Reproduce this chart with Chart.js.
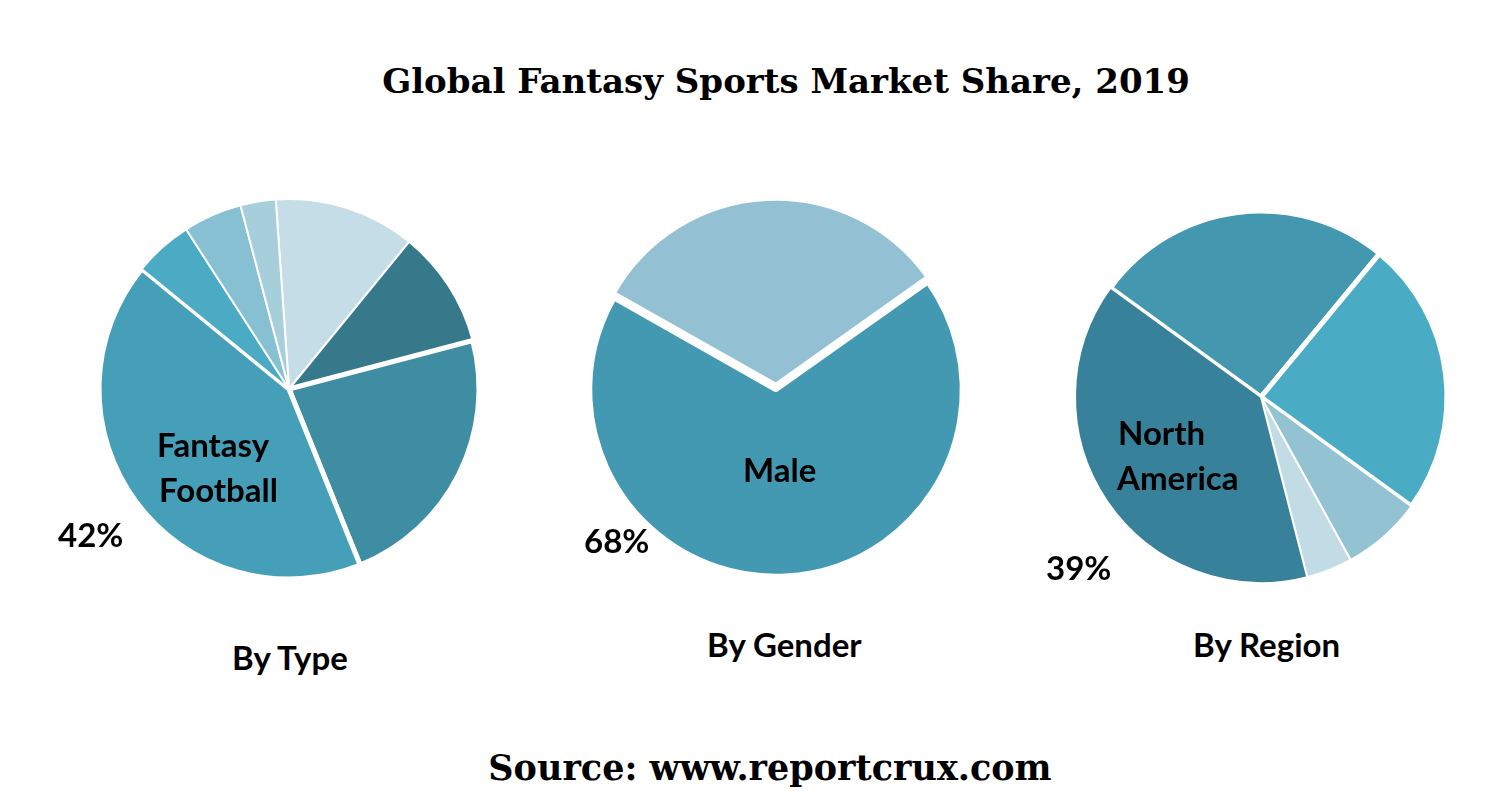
<!DOCTYPE html>
<html>
<head>
<meta charset="utf-8">
<script src="https://cdn.jsdelivr.net/npm/chart.js@4"></script>
<style>
  html, body { margin: 0; padding: 0; background: #fff; }
  body { width: 1502px; height: 792px; position: relative; overflow: hidden; }
  .pie { position: absolute; }
  .txt { position: absolute; font-family: Lato, "Open Sans", sans-serif; font-weight: 700; font-size: 33px; line-height: 33px; color: #000; white-space: nowrap; }
  .head { position: absolute; width: 1000px; text-align: center; font-family: "DejaVu Serif", serif; font-weight: 700; font-size: 34px; line-height: 34px; color: #000; white-space: nowrap; }
</style>
</head>
<body>

<div class="head" style="left:286px; top:64px;">Global Fantasy Sports Market Share, 2019</div>

<div class="pie" id="box1"><canvas id="typePie"></canvas></div>
<div class="pie" id="box2"><canvas id="genderPie"></canvas></div>
<div class="pie" id="box3"><canvas id="regionPie"></canvas></div>

<div class="txt" style="left:157px; top:428px;">Fantasy</div>
<div class="txt" style="left:159px; top:473px;">Football</div>
<div class="txt" style="left:58px; top:518px;">42%</div>
<div class="txt" style="left:232px; top:641px;">By Type</div>

<div class="txt" style="left:743px; top:453px;">Male</div>
<div class="txt" style="left:584px; top:524px;">68%</div>
<div class="txt" style="left:707px; top:628px;">By Gender</div>

<div class="txt" style="left:1118px; top:416px;">North</div>
<div class="txt" style="left:1117px; top:461px;">America</div>
<div class="txt" style="left:1046px; top:551px;">39%</div>
<div class="txt" style="left:1193px; top:628px;">By Region</div>

<div class="head" style="left:270px; top:751px; font-size:35px;">Source: www.reportcrux.com</div>

<script>
// shares (%), clockwise from the first slice
// only the big slices are labelled in the source, the rest are guesses
var typeLabels = ['Fantasy Baseball', 'Fantasy Basketball', 'Fantasy Soccer', 'Fantasy Football', 'Fantasy Hockey', 'Fantasy Cricket', 'Others'];
var typeValues = [12, 10, 23, 42, 5, 5, 3];
var typeColors = ['#c5dde7', '#35798b', '#3e8da3', '#459fb8', '#4babc5', '#86c0d2', '#a6cedb'];
var typeBorders = [2, 2, 5, 5, 2, 2, 2];

var genderLabels = ['Female', 'Male'];
var genderValues = [32, 68];
var genderColors = ['#93c1d3', '#4399b1'];

var regionLabels = ['Europe', 'Asia Pacific', 'Latin America', 'Middle East & Africa', 'North America'];
var regionValues = [26, 24, 7, 4, 39];
var regionColors = ['#4398b0', '#4aacc4', '#93c2d3', '#c2dce6', '#37819a'];
var regionBorders = [5, 5, 2, 2, 2];

function makePie(boxId, canvasId, cx, cy, radius, rotation, labels, values, colors, borders, offsets) {
	var size = Math.ceil(radius * 2 + 30);
	var box = document.getElementById(boxId);
	box.style.left = (cx - size / 2) + 'px';
	box.style.top = (cy - size / 2) + 'px';
	box.style.width = size + 'px';
	box.style.height = size + 'px';

	var config = {
		type: 'pie',
		data: {
			labels: labels,
			datasets: [{
				data: values,
				backgroundColor: colors,
				borderColor: '#ffffff',
				borderWidth: borders,
				offset: offsets || 0
			}]
		},
		options: {
			responsive: true,
			maintainAspectRatio: false,
			animation: false,
			radius: radius,
			rotation: rotation,
			layout: { padding: 0 },
			plugins: {
				legend: { display: false },
				tooltip: { enabled: false },
				title: { display: false }
			}
		}
	};
	return new Chart(document.getElementById(canvasId), config);
}

var pie1 = makePie('box1', 'typePie', 289, 388.5, 190, -4, typeLabels, typeValues, typeColors, typeBorders);
var pie2 = makePie('box2', 'genderPie', 775.5, 390, 186, -60.5, genderLabels, genderValues, genderColors, 4.5, [20, 0]);
var pie3 = makePie('box3', 'regionPie', 1260.5, 396.5, 186, -54, regionLabels, regionValues, regionColors, regionBorders);
</script>
</body>
</html>
